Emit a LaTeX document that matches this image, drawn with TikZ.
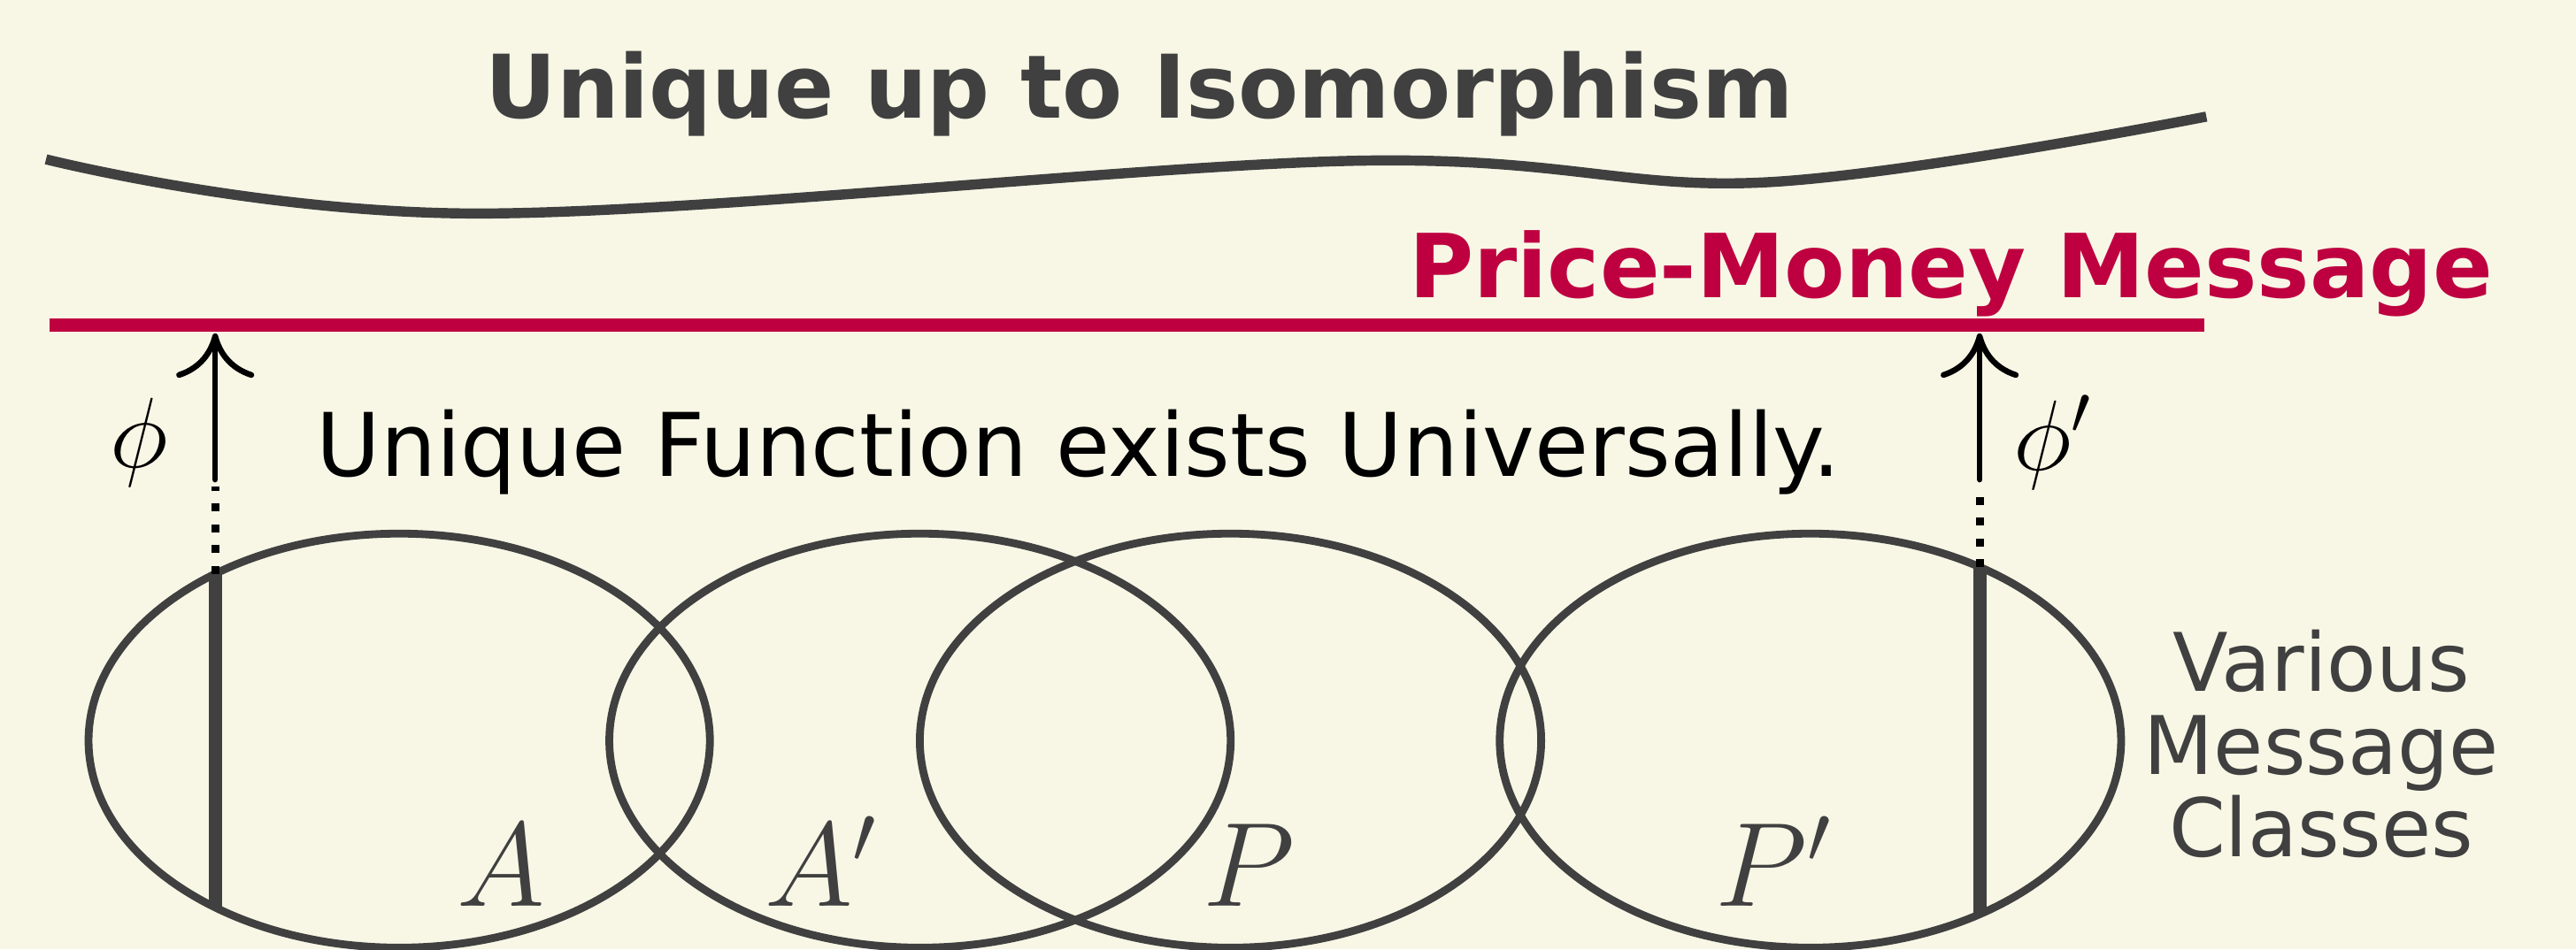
\documentclass[tikz,border=0pt]{standalone}
\usepackage{fontspec}
\setmainfont{DejaVu Sans}
\usetikzlibrary{arrows.meta}

\definecolor{paper}{HTML}{F8F7E6}
\definecolor{ink}{HTML}{404040}
\definecolor{pmred}{HTML}{BE0040}

\tikzset{
  msgclass/.style={ink, line width=1.35pt},
  chord/.style={ink, line width=2.3pt},
  lift/.style={black, line width=1pt, line cap=round, -{Computer Modern Rightarrow[length=7.7pt,width=13.5pt]}},
  liftdots/.style={black, line width=1.4pt, dash pattern=on 1.4pt off 2.2pt},
  maplabel/.style={font=\fontsize{17}{20}\selectfont},
  classlabel/.style={ink, anchor=base, font=\fontsize{20}{24}\selectfont}
}

\begin{document}
\begin{tikzpicture}[x=0.01cm,y=-0.01cm]
        \fill[paper] (0,0) rectangle (1568,578);
        \useasboundingbox (0,0) rectangle (1568,578);

        % nahore: jednoznacnost
        \node[ink, anchor=base, inner sep=0pt, font=\bfseries\fontsize{15.2}{18}\selectfont] (iso) at (693.5,72) {Unique up to Isomorphism};
        \draw[ink, line width=1.75pt] plot[smooth, tension=0.6] coordinates {(28,97) (290,130) (820,98) (1075,111) (1343,71)};

        % cenova zprava
        \coordinate (pmL) at (30,198);
        \coordinate (pmR) at (1342,198);
        \draw[pmred, line width=2.3pt] (pmL) -- (pmR);
        \node[pmred, anchor=base east, inner sep=0pt, font=\bfseries\fontsize{15.3}{18}\selectfont] (pm) at (1518,181) {Price-Money Message};

        \node[anchor=base, inner sep=0pt, font=\fontsize{15.2}{18}\selectfont] (ufeu) at (656.5,290) {Unique Function exists Universally.};

        % tridy zprav
        \draw[msgclass] (243,451) ellipse [x radius=1.89cm, y radius=1.26cm];
        \draw[msgclass] (560,451) ellipse [x radius=1.89cm, y radius=1.26cm];
        \draw[msgclass] (749,451) ellipse [x radius=1.89cm, y radius=1.26cm];
        \draw[msgclass] (1102,451) ellipse [x radius=1.89cm, y radius=1.26cm];
        \node[classlabel] (a) at (305,552) {$A$};
        \node[classlabel] (a') at (500,552) {$A'$};
        \node[classlabel] (p) at (760,552) {$P$};
        \node[classlabel] (p') at (1080,552) {$P'$};
        \node[ink, align=center, font=\fontsize{14}{14.3}\selectfont] (various) at (1413,453) {Various\\Message\\Classes};

        % phi
        \coordinate (chLtop) at (131,349.5);
        \coordinate (chLbot) at (131,552.5);
        \coordinate (baseL) at (131,292);
        \coordinate (dotL) at (131,296);
        \coordinate (hitL) at (131,203);
        \draw[chord] (chLtop) -- (chLbot);
        \draw[liftdots] (chLtop) -- (dotL);
        \draw[lift] (baseL) -- (hitL);
        \node[maplabel] (phi) at (84.5,269.5) {$\phi$};

        % phi'
        \coordinate (chRtop) at (1205,345.4);
        \coordinate (chRbot) at (1205,556.6);
        \coordinate (baseR) at (1205,292);
        \coordinate (dotR) at (1205,296);
        \coordinate (hitR) at (1205,203);
        \draw[chord] (chRtop) -- (chRbot);
        \draw[liftdots] (chRtop) -- (dotR);
        \draw[lift] (baseR) -- (hitR);
        \node[maplabel] (phi') at (1250,269.5) {$\phi'$};
    \end{tikzpicture}
\end{document}
